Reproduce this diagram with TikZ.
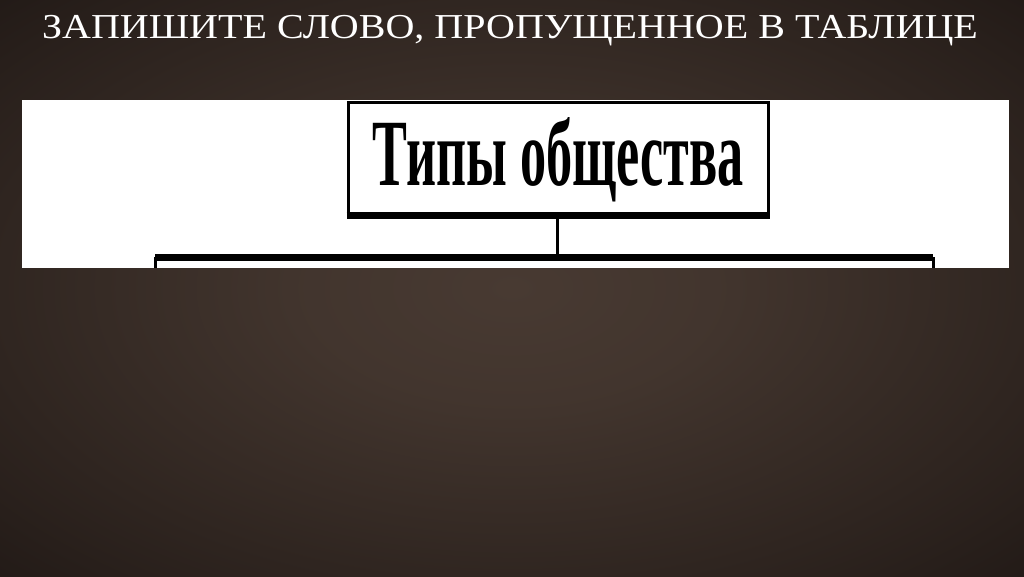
\documentclass[tikz,border=0pt]{standalone}
\usepackage{fontspec}
\setmainfont{Liberation Serif}
\usetikzlibrary{positioning}
\definecolor{bgin}{RGB}{72,58,50}
\definecolor{bgout}{RGB}{22,16,14}
\pgfdeclareradialshading{glow}{\pgfpoint{0bp}{0bp}}{color(0bp)=(bgin); color(10bp)=(bgin!88!bgout); color(30bp)=(bgin!40!bgout); color(45bp)=(bgout); color(75bp)=(bgout)}

\begin{document}
\begin{tikzpicture}[x=1pt, y=-1pt,
    head/.style = {text=white, font=\fontsize{35}{37}\selectfont, anchor=base, inner sep=0pt},
    main/.style = {draw, line width=3pt, fill=white, minimum width=420pt, minimum height=114pt,
                   inner sep=0pt, text height=63pt, text depth=12pt}]
            \useasboundingbox (0,0) rectangle (1024,576);
            \shade[shading=glow] (0,0) rectangle (1024,576);
            \node[head] (title) at (510,38) {\scalebox{1.144}[1]{ЗАПИШИТЕ СЛОВО, ПРОПУЩЕННОЕ В ТАБЛИЦЕ}};
            \fill[white] (22,100) rectangle (1009,268);
            \node[main] (types) at (558,159.5) {\scalebox{0.55}[1]{\fontsize{95}{100}\selectfont\bfseries Типы общества}};
            \coordinate (bus) at (557,257);
            \coordinate (left) at (155,257);
            \coordinate (right) at (933,257);
            \draw[line width=7pt] ([yshift=3pt]types.south west) -- ([yshift=3pt]types.south east);
            \draw[line width=3pt] (types.south -| bus) -- (bus);
                \draw[line width=7pt] (left) -- (right);
                \draw[line width=3pt] (left) -- (155,268);
                \draw[line width=3pt] (right) -- (933,268);
        \end{tikzpicture}
\end{document}
